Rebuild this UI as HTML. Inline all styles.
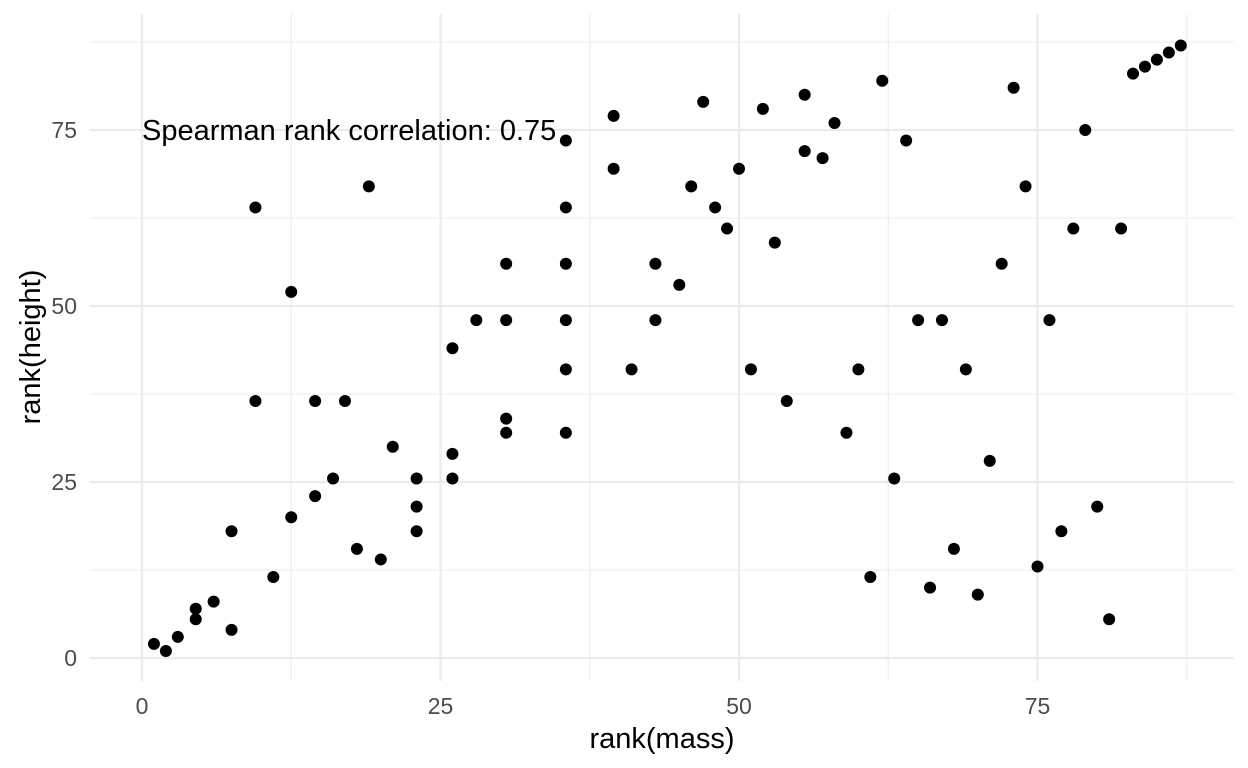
<!DOCTYPE html>
<html><head><meta charset="utf-8">
<style>
html,body{margin:0;padding:0;background:#fff;}
svg{display:block;font-family:"Liberation Sans",Arial,sans-serif;}
</style></head>
<body>
<svg id="chart" width="1248" height="768" viewBox="0 0 1248 768" xmlns="http://www.w3.org/2000/svg">
<g id="grid"></g>
<g id="points"></g>
<g id="axes"></g>
<text x="142" y="140" font-size="29" fill="#000">Spearman rank correlation: 0.75</text>
<text x="662" y="748" font-size="29" text-anchor="middle" fill="#000">rank(mass)</text>
<text transform="translate(40,347) rotate(-90)" font-size="29" text-anchor="middle" fill="#000">rank(height)</text>
</svg>
<script>
const xTicks = [0, 25, 50, 75];
const yTicks = [0, 25, 50, 75];
const xMinor = [12.5, 37.5, 62.5, 87.5];
const yMinor = [12.5, 37.5, 62.5, 87.5];
const xs = [1,2,3,4.5,4.5,6,7.5,7.5,9.5,9.5,11,12.5,12.5,14.5,14.5,16,17,18,19,20,21,23,23,23,26,26,26,28,30.5,30.5,30.5,30.5,35.5,35.5,35.5,35.5,35.5,35.5,39.5,39.5,41,43,43,45,46,47,48,49,50,51,52,53,54,55.5,55.5,57,58,59,60,61,62,63,64,65,66,67,68,69,70,71,72,73,74,75,76,77,78,79,80,81,82,83,84,85,86,87];
const ys = [2,1,3,7,5.5,8,4,18,36.5,64,11.5,20,52,23,36.5,25.5,36.5,15.5,67,14,30,25.5,21.5,18,44,29,25.5,48,56,48,34,32,73.5,64,56,48,41,32,77,69.5,41,56,48,53,67,79,64,61,69.5,41,78,59,36.5,80,72,71,76,32,41,11.5,82,25.5,73.5,48,10,48,15.5,41,9,28,56,81,67,13,48,18,61,75,21.5,5.5,61,83,84,85,86,87];

const NS = "http://www.w3.org/2000/svg";
const L = 90, R = 1234, T = 14, B = 681;
function sx(v){ return 142 + v * 11.94; }
function sy(v){ return 658 - v * 7.04; }
const grid = document.getElementById('grid');
const axes = document.getElementById('axes');
const pts = document.getElementById('points');
function line(x1,y1,x2,y2,w){
  const l = document.createElementNS(NS,'line');
  l.setAttribute('x1',x1); l.setAttribute('y1',y1); l.setAttribute('x2',x2); l.setAttribute('y2',y2);
  l.setAttribute('stroke','#ebebeb'); l.setAttribute('stroke-width',w);
  return l;
}
xMinor.forEach(v=>{ const l=line(sx(v),T,sx(v),B,1.1);


grid.appendChild(l);});
yMinor.forEach(v=>{ const l=line(L,sy(v),R,sy(v),1.1);


grid.appendChild(l);});
xTicks.forEach(v=>{ const l=line(sx(v),T,sx(v),B,2.2);


grid.appendChild(l);
const t=document.createElementNS(NS,'text');


t.setAttribute('x',sx(v)); t.setAttribute('y',714); t.setAttribute('font-size','23'); t.setAttribute('fill','#4d4d4d'); t.setAttribute('text-anchor','middle');
t.textContent=v; axes.appendChild(t);});
yTicks.forEach(v=>{ const l=line(L,sy(v),R,sy(v),2.2);


grid.appendChild(l);
const t=document.createElementNS(NS,'text');


t.setAttribute('x',77); t.setAttribute('y',sy(v)+8); t.setAttribute('font-size','23'); t.setAttribute('fill','#4d4d4d'); t.setAttribute('text-anchor','end');
t.textContent=v; axes.appendChild(t);});
xs.forEach((x,i)=>{
  const c=document.createElementNS(NS,'circle');
  
  
  c.setAttribute('cx',sx(x)); c.setAttribute('cy',sy(ys[i])); c.setAttribute('r',6); c.setAttribute('fill','#000');
  pts.appendChild(c);
});
</script>
</body></html>
